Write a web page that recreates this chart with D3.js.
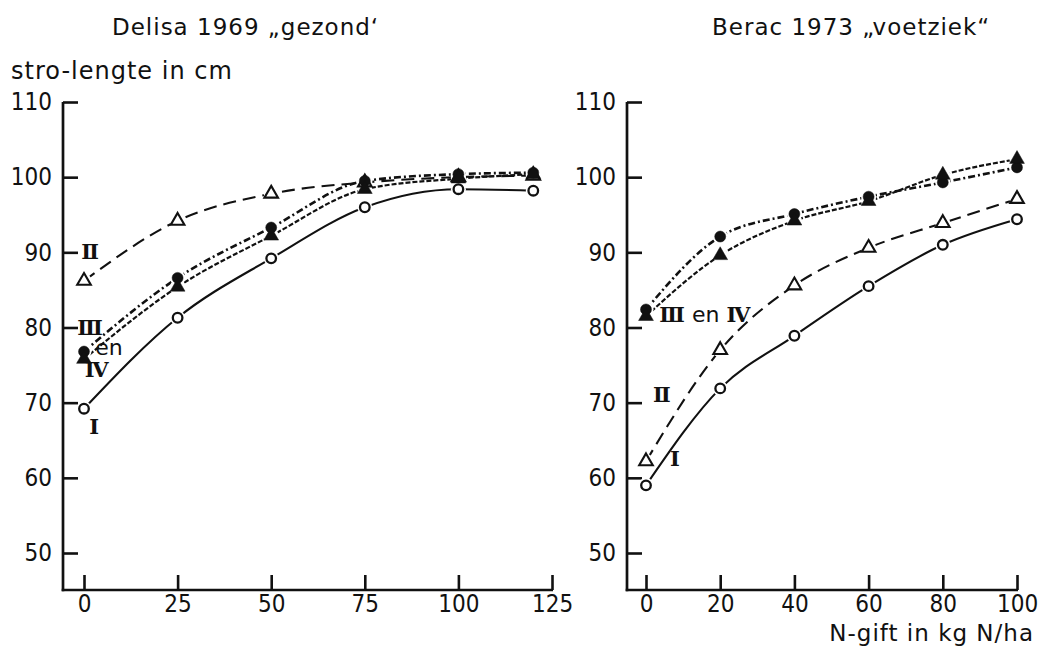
<!DOCTYPE html>
<html>
<head>
<meta charset="utf-8">
<script src="https://cdn.jsdelivr.net/npm/d3@7"></script>
<style>
  html, body { margin: 0; padding: 0; background: #fff; }
  svg { display: block; }
  .num { font-family: "DejaVu Sans", sans-serif; font-stretch: condensed; font-size: 24px; fill: #111; }
  .lbl { font-family: "DejaVu Sans", sans-serif; font-size: 23px; fill: #111; letter-spacing: 1px; }
  .roman { font-family: "DejaVu Serif", serif; font-size: 21px; font-weight: 600; fill: #111; }
  .en { font-family: "DejaVu Sans", sans-serif; font-size: 22px; fill: #111; }
</style>
</head>
<body>
<svg id="chart" width="1039" height="646"></svg>
<script>
// Straw length (cm) against nitrogen dose (kg N/ha), treatments I–IV
const yTicks = [50, 60, 70, 80, 90, 100, 110];

// Delisa 1969 "gezond"
const leftTicks = [0, 25, 50, 75, 100, 125];
const leftN   = [0, 25, 50, 75, 100, 120];
const leftI   = [69.2, 81.3, 89.2, 96.0, 98.4, 98.2];
const leftII  = [86.2, 94.2, 97.8, 99.3, 100.0, 100.2];
const leftIII = [76.8, 86.6, 93.3, 99.5, 100.4, 100.6];
const leftIV  = [75.8, 85.4, 92.2, 98.4, 99.8, 100.4];

// Berac 1973 "voetziek"
const rightTicks = [0, 20, 40, 60, 80, 100];
const rightN   = [0, 20, 40, 60, 80, 100];
const rightI   = [59.0, 71.9, 78.9, 85.5, 91.0, 94.4];
const rightII  = [62.2, 77.0, 85.6, 90.6, 93.9, 97.1];
const rightIII = [82.4, 92.1, 95.1, 97.4, 99.3, 101.3];
const rightIV  = [81.5, 89.6, 94.2, 96.8, 100.3, 102.4];

const svg = d3.select("#chart");

// line styles per treatment
const styles = {
  I:   { dash: null,      width: 2.1, marker: "circle",   filled: false },
  II:  { dash: "13 7",    width: 2.1, marker: "triangle", filled: false },
  III: { dash: "7 3 2 3", width: 2.6, marker: "circle",   filled: true },
  IV:  { dash: "5 2",     width: 2.2, marker: "triangle", filled: true }
};

function panel(cfg) {
  const g = svg.append("g");
  const x = d3.scaleLinear().domain(cfg.xDomain).range(cfg.xRange);
  const y = d3.scaleLinear().domain([50, 110]).range([553, 102]);

  // axis lines
  g.append("line")
    .attr("x1", cfg.axisX).attr("x2", cfg.axisX)
    .attr("y1", y(110)).attr("y2", cfg.axisY + 1.3)
    .attr("stroke", "#111").attr("stroke-width", 2.7);
  g.append("line")
    .attr("x1", cfg.axisX - 1.3).attr("x2", x(cfg.xDomain[1]) + 1)
    .attr("y1", cfg.axisY).attr("y2", cfg.axisY)
    .attr("stroke", "#111").attr("stroke-width", 2.7);

  const ya = g.append("g").attr("transform", `translate(${cfg.axisX},0)`)
    .call(d3.axisLeft(y).tickValues(yTicks).tickSize(-15).tickPadding(11));
  const xa = g.append("g").attr("transform", `translate(0,${cfg.axisY})`)
    .call(d3.axisBottom(x).tickValues(cfg.ticks).tickSize(-15).tickPadding(5));
  [ya, xa].forEach(a => {
    a.select(".domain").remove();
    a.selectAll(".tick line").attr("stroke", "#111").attr("stroke-width", 2.6);
    a.selectAll(".tick text").attr("class", "num").attr("font-family", null).attr("font-size", null);
  });

  const line = d3.line().x(d => x(d[0])).y(d => y(d[1])).curve(d3.curveMonotoneX);

  const series = cfg.series.map(s => ({ key: s.key, pts: cfg.n.map((v, i) => [v, s.values[i]]) }));

  series.forEach(s => {
    const st = styles[s.key];
    g.append("path")
      .attr("d", line(s.pts))
      .attr("fill", "none")
      .attr("stroke", "#111")
      .attr("stroke-width", st.width)
      .attr("stroke-dasharray", st.dash)
      .attr("stroke-linecap", "butt");
  });

  // white halo so the curves stop short of the markers
  series.forEach(s => {
    g.selectAll(null).data(s.pts).enter().append("circle")
      .attr("cx", d => x(d[0])).attr("cy", d => y(d[1]))
      .attr("r", 7.5).attr("fill", "#fff");
  });

  const tri = d3.symbol().type(d3.symbolTriangle);
  series.forEach(s => {
    const st = styles[s.key];
    const sel = g.selectAll(null).data(s.pts).enter();
    if (st.marker === "circle") {
      sel.append("circle")
        .attr("cx", d => x(d[0])).attr("cy", d => y(d[1]))
        .attr("r", st.filled ? 5.5 : 4.8)
        .attr("fill", st.filled ? "#111" : "#fff")
        .attr("stroke", "#111").attr("stroke-width", st.filled ? 0.5 : 2.3);
    } else {
      sel.append("path")
        .attr("d", tri.size(st.filled ? 95 : 80)())
        .attr("transform", d => `translate(${x(d[0])},${y(d[1])})`)
        .attr("fill", st.filled ? "#111" : "#fff")
        .attr("stroke", "#111").attr("stroke-width", st.filled ? 0.5 : 2.1)
        .attr("stroke-linejoin", "miter");
    }
  });

  // treatment labels
  cfg.notes.forEach(n => {
    const t = g.append("text")
      .attr("x", x(n.at[0])).attr("y", y(n.at[1]))
      .attr("dominant-baseline", "central")
      .attr("text-anchor", n.anchor || "middle");
    n.parts.forEach(p => {
      t.append("tspan").attr("class", p.cls).text(p.text);
    });
  });

  return { x, y, g };
}

panel({
  xDomain: [0, 125], xRange: [84, 552], axisX: 63, axisY: 590,
  ticks: leftTicks, n: leftN,
  series: [
    { key: "I", values: leftI }, { key: "II", values: leftII },
    { key: "III", values: leftIII }, { key: "IV", values: leftIV }
  ],
  notes: [
    { at: [1.6, 90.2], parts: [{ cls: "roman", text: "Ⅱ" }] },
    { at: [1.6, 80.1], parts: [{ cls: "roman", text: "Ⅲ" }] },
    { at: [3.0, 77.4], anchor: "start", parts: [{ cls: "en", text: "en" }] },
    { at: [3.4, 74.5], parts: [{ cls: "roman", text: "Ⅳ" }] },
    { at: [2.7, 66.9], parts: [{ cls: "roman", text: "Ⅰ" }] }
  ]
});

panel({
  xDomain: [0, 100], xRange: [646, 1017], axisX: 627, axisY: 590,
  ticks: rightTicks, n: rightN,
  series: [
    { key: "I", values: rightI }, { key: "II", values: rightII },
    { key: "III", values: rightIII }, { key: "IV", values: rightIV }
  ],
  notes: [
    { at: [3.6, 81.8], anchor: "start",
      parts: [{ cls: "roman", text: "Ⅲ" }, { cls: "en", text: " en " }, { cls: "roman", text: "Ⅳ" }] },
    { at: [4.3, 71.2], parts: [{ cls: "roman", text: "Ⅱ" }] },
    { at: [7.8, 62.6], parts: [{ cls: "roman", text: "Ⅰ" }] }
  ]
});

// titles and axis captions
svg.append("text").attr("class", "lbl").attr("x", 112).attr("y", 35).text("Delisa 1969 „gezond‘");
svg.append("text").attr("class", "lbl").attr("x", 712).attr("y", 35).text("Berac 1973 „voetziek“");
svg.append("text").attr("class", "lbl").attr("x", 11).attr("y", 79).style("font-size", "24px").text("stro-lengte in cm");
svg.append("text").attr("class", "lbl").attr("x", 1034).attr("y", 641)
  .attr("text-anchor", "end").text("N-gift in kg N/ha");
</script>
</body>
</html>
